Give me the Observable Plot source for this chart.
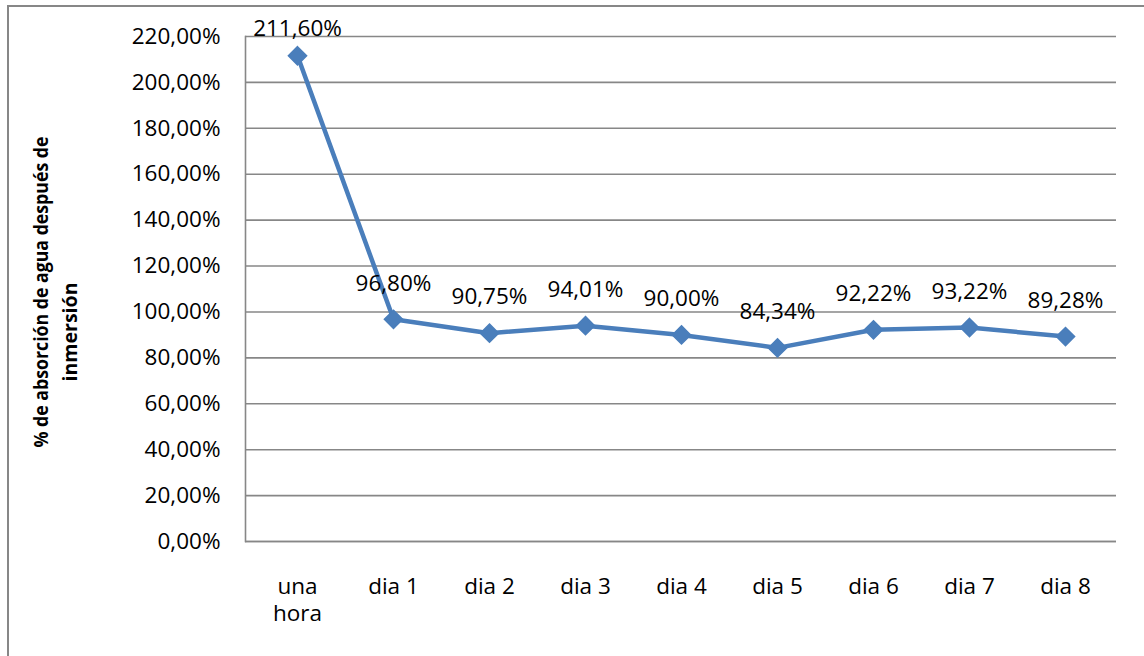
<!DOCTYPE html>
<html><head><meta charset="utf-8">
<script src="https://cdn.jsdelivr.net/npm/d3@7"></script>
<script src="https://cdn.jsdelivr.net/npm/@observablehq/plot@0.6"></script>
<style>
html,body{margin:0;padding:0;background:#fff;overflow:hidden;width:1144px;height:656px}
#frame{position:absolute;left:7px;top:5px;width:1200px;height:700px;border:2px solid #878787;box-sizing:border-box}
#chart{position:absolute;left:0;top:0}
</style></head><body>
<div id="frame"></div><div id="chart"></div>
<script>
const categories = ["una\nhora", "dia 1", "dia 2", "dia 3", "dia 4", "dia 5", "dia 6", "dia 7", "dia 8"];
const values = [2.116, 0.968, 0.9075, 0.9401, 0.90, 0.8434, 0.9222, 0.9322, 0.8928];
const yTicks = [0, 0.2, 0.4, 0.6, 0.8, 1.0, 1.2, 1.4, 1.6, 1.8, 2.0, 2.2];
const yTitle1 = "% de absorción de agua después de";
const yTitle2 = "inmersión";

const fmt = d => (d * 100).toFixed(2).replace(".", ",") + "%";
const data = categories.map((c, i) => ({cat: c, v: values[i]}));
const blue = "#4A7EBB";
const fs = 22.5;

const plot = Plot.plot({
  width: 1144, height: 656,
  marginLeft: 245, marginRight: 28, marginTop: 36, marginBottom: 115,
  style: {fontFamily: "'Open Sans', sans-serif", fontSize: fs + "px", color: "#000", background: "transparent", overflow: "visible"},
  x: {type: "point", domain: categories, padding: 0.5, label: null},
  y: {domain: [0, 2.2], ticks: yTicks, label: null},
  marks: [
    Plot.gridY(yTicks, {stroke: "#878787", strokeOpacity: 1, strokeWidth: 1.6}),
    Plot.frame({anchor: "left", stroke: "#878787", strokeWidth: 1.6}),
    Plot.ruleY([0], {stroke: "#878787", strokeWidth: 1.6}),
    Plot.axisY(yTicks, {tickSize: 0, tickPadding: 25, tickFormat: fmt, fill: "#000", fontSize: fs}),
    Plot.axisX({tickSize: 0, tickPadding: 33, fill: "#000", fontSize: fs, lineHeight: 1.22}),
    Plot.line(data, {x: "cat", y: "v", stroke: blue, strokeWidth: 4.5}),
    Plot.dot(data, {x: "cat", y: "v", symbol: "diamond2", r: 8.2, fill: blue, stroke: blue}),
    Plot.text(data.slice(0, 1), {x: "cat", y: "v", text: d => fmt(d.v), dy: -27, fontSize: fs, fill: "#000"}),
    Plot.text(data.slice(1), {x: "cat", y: "v", text: d => fmt(d.v), dy: -36, fontSize: fs, fill: "#000"})
  ]
});
document.getElementById("chart").appendChild(plot);

const svg = d3.select(plot);
svg.append("text")
  .attr("transform", "translate(43,292) rotate(-90)")
  .attr("text-anchor", "middle").attr("dominant-baseline", "middle")
  .attr("font-family", "'Open Sans', sans-serif").attr("font-weight", "bold").attr("font-size", 19.5)
  .attr("textLength", 311).attr("lengthAdjust", "spacingAndGlyphs")
  .text(yTitle1);
svg.append("text")
  .attr("transform", "translate(72,332) rotate(-90)")
  .attr("text-anchor", "middle").attr("dominant-baseline", "middle")
  .attr("font-family", "'Open Sans', sans-serif").attr("font-weight", "bold").attr("font-size", 19.5)
  .attr("textLength", 99).attr("lengthAdjust", "spacingAndGlyphs")
  .text(yTitle2);
</script>
</body></html>
